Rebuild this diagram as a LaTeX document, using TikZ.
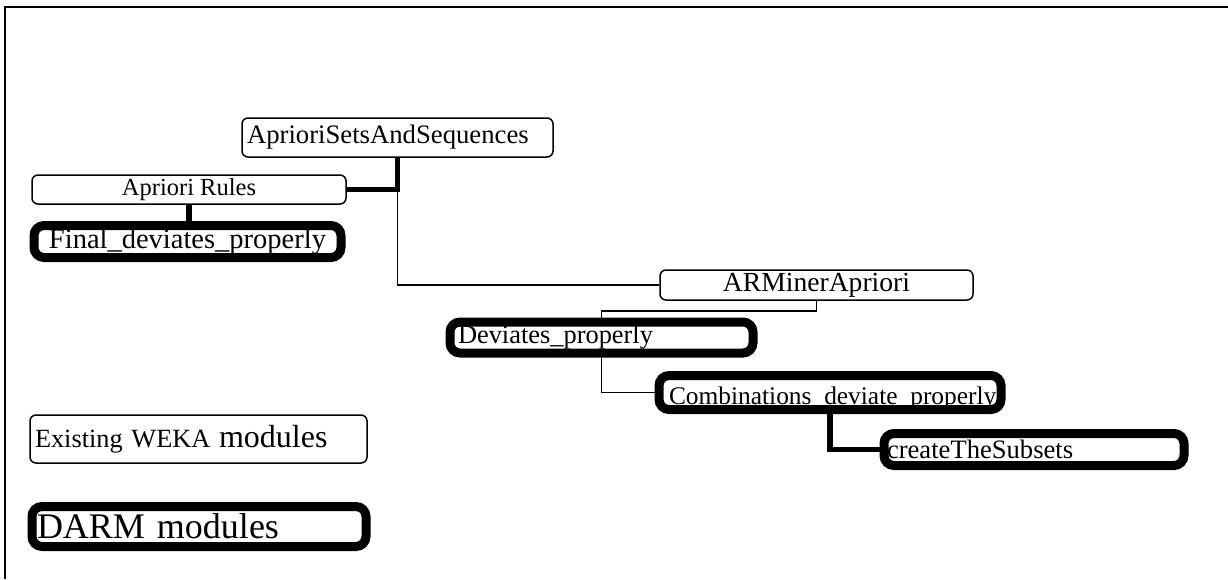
\documentclass[tikz,border=0pt]{standalone}
\usepackage{fontspec}
\setmainfont{Liberation Serif}
\usetikzlibrary{positioning}

\begin{document}
\begin{tikzpicture}[x = 1pt, y = -1pt]
\tikzstyle{wekaStyle}=[shape = rectangle, draw, line width = 1.5pt, rounded corners = 6pt, fill = white, inner sep = 0pt]
\tikzstyle{darmStyle}=[shape = rectangle, draw, line width = 9pt, rounded corners = 10pt, fill = white, inner sep = 0pt]
\tikzstyle{thinLink}=[line width = 1.8pt]
\tikzstyle{thickLink}=[line width = 5.5pt]
\useasboundingbox (0,0) rectangle (1228,579);
\draw[line width = 2pt] (5,579) |- (1228,7);
% modules of the tree
\node[wekaStyle, minimum height = 39pt, inner xsep = 5pt, text width = 301pt, align = left, font = \fontsize{26.7}{28}\selectfont] (sets) at (397.5,137.5) {AprioriSetsAndSequences};
\node[wekaStyle, minimum width = 314pt, minimum height = 29pt, font = \fontsize{24.5}{26}\selectfont] (rules) at (189,189.5) {Apriori Rules};
\node[darmStyle, minimum width = 307pt, minimum height = 32pt, font = \fontsize{28.5}{30}\selectfont] (final) at (187.5,241.5) {Final\_deviates\_properly};
\node[wekaStyle, minimum width = 313pt, minimum height = 30pt, font = \fontsize{27.6}{29}\selectfont] (arminer) at (816.5,285) {ARMinerApriori};
\node[darmStyle, minimum height = 31pt, inner xsep = 8pt, text width = 287pt, align = left, font = \fontsize{26.4}{28}\selectfont] (deviates) at (601.5,337.5) {Deviates\_properly};
\node[darmStyle, minimum height = 34pt, inner xsep = 10pt, text width = 322pt, align = left, font = \fontsize{25.4}{27}\selectfont] (combos) at (830,392.5) {\raisebox{-12pt}[0pt][0pt]{Combinations\_deviate\_properly}};
\node[darmStyle, minimum height = 32pt, inner xsep = 3pt, text width = 294pt, align = left, font = \fontsize{26.6}{28}\selectfont] (subsets) at (1034,449.5) {createTheSubsets};
% legend
\node[wekaStyle, minimum height = 48pt, inner xsep = 5pt, text width = 327pt, align = left, font = \fontsize{26.3}{28}\selectfont] (weka) at (198.5,439) {Existing WEKA {\fontsize{32}{34}\selectfont modules}};
\node[darmStyle, minimum height = 40pt, inner xsep = 5pt, text width = 324pt, align = left, font = \fontsize{36}{38}\selectfont] (darm) at (199,526.5) {DARM modules};
% links
\draw[thickLink] (rules.east) -| (sets.south);
\draw[thinLink] (rules.east -| sets.south) |- (arminer.west);
\draw[thickLink] (rules.south) -- (rules.south |- final.north);
\draw[thinLink] (arminer.south) -- ++(0,10) -| (deviates.north);
\draw[thinLink] (deviates.south) |- (combos.west);
\draw[thickLink] (combos.south) |- (subsets.west);
\end{tikzpicture}
\end{document}
